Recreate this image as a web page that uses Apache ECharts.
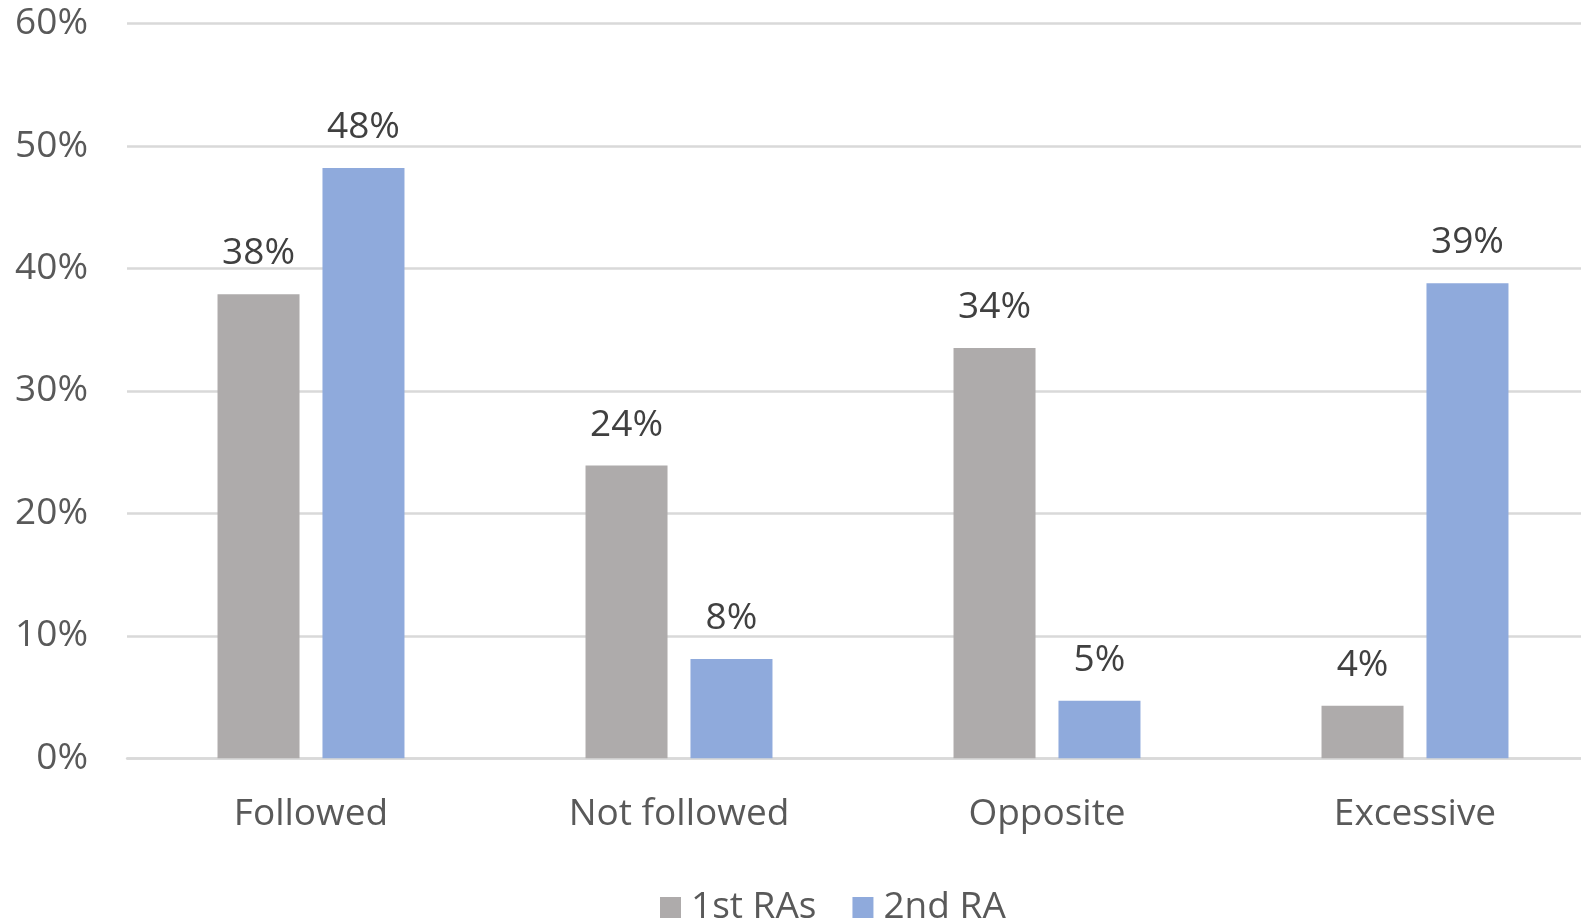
<!DOCTYPE html>
<html>
<head>
<meta charset="utf-8">
<script src="https://cdn.jsdelivr.net/npm/echarts@6/dist/echarts.min.js"></script>
<style>
  html, body { margin: 0; padding: 0; background: #ffffff; overflow: hidden; }
  /* canvas is slightly wider than the window so the plot runs off the right edge */
  #chart { width: 1600px; height: 922px; }
</style>
</head>
<body>
<div id="chart"></div>
<script>
// Response categories and the share of each (in percent)
const categories = ['Followed', 'Not followed', 'Opposite', 'Excessive'];
const seriesNames = ['1st RAs', '2nd RA'];
const firstRAs = [37.9, 23.9, 33.5, 4.3];
const secondRA = [48.2, 8.1, 4.7, 38.8];
const yTicks = [0, 10, 20, 30, 40, 50, 60];

const FONT = '"Open Sans", "DejaVu Sans", sans-serif';
const GRAY = '#AEABAB';
const BLUE = '#8FAADC';

const chart = echarts.init(document.getElementById('chart'), null, { renderer: 'canvas' });

const valueLabel = {
  show: true,
  position: 'top',
  distance: 22,
  color: '#404040',
  fontFamily: FONT,
  fontSize: 37,
  lineHeight: 37,
  formatter: p => Math.round(p.value) + '%'
};

chart.setOption({
  animation: false,
  backgroundColor: '#ffffff',
  grid: { left: 127, width: 1472, top: 23.5, bottom: 163.7, containLabel: false },
  legend: {
    data: seriesNames,
    top: 884,
    left: 655,
    icon: 'rect',
    itemWidth: 21,
    itemHeight: 21,
    itemGap: 36,
    textStyle: { color: '#595959', fontFamily: FONT, fontSize: 37, padding: [0, 0, 0, 5] }
  },
  xAxis: {
    type: 'category',
    data: categories,
    axisLine: { show: true, lineStyle: { color: '#D9D9D9', width: 2.5 } },
    axisTick: { show: false },
    axisLabel: { color: '#595959', fontFamily: FONT, fontSize: 37, margin: 38 }
  },
  yAxis: {
    type: 'value',
    min: yTicks[0],
    max: yTicks[yTicks.length - 1],
    interval: 10,
    axisLine: { show: false },
    axisTick: { show: false },
    splitLine: { lineStyle: { color: '#D9D9D9', width: 2.5 } },
    axisLabel: { color: '#595959', fontFamily: FONT, fontSize: 37, margin: 39, formatter: v => v + '%' }
  },
  series: [
    {
      name: seriesNames[0],
      type: 'bar',
      data: firstRAs,
      barWidth: 82,
      barGap: '28%',
      itemStyle: { color: GRAY },
      label: valueLabel
    },
    {
      name: seriesNames[1],
      type: 'bar',
      data: secondRA,
      barWidth: 82,
      barGap: '28%',
      itemStyle: { color: BLUE },
      label: valueLabel
    }
  ]
});
</script>
</body>
</html>
